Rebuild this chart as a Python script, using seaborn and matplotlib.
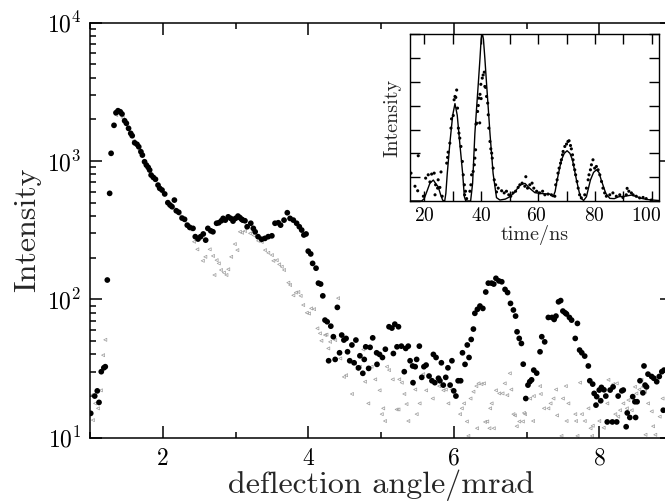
import numpy as np
import pandas as pd
import matplotlib
matplotlib.use("Agg")
import matplotlib.pyplot as plt
import matplotlib.transforms as mtransforms
from matplotlib.ticker import MultipleLocator, LogLocator, NullFormatter
import seaborn as sns

# ---------------- data: main panel ----------------
angle_on = [1.01, 1.065, 1.10, 1.124, 1.155, 1.19, 1.21, 1.238, 1.27, 1.29, 1.33, 1.357, 1.385, 1.416, 1.44,
            1.476, 1.50, 1.53, 1.56, 1.58, 1.614, 1.646, 1.67, 1.70, 1.72, 1.75, 1.775, 1.80, 1.82, 1.84,
            1.87, 1.90, 1.935, 1.958, 1.99, 2.027, 2.07, 2.10, 2.127, 2.16, 2.186, 2.22, 2.265, 2.30, 2.337,
            2.37, 2.416, 2.447, 2.485, 2.52, 2.557, 2.59, 2.62, 2.66, 2.69, 2.74, 2.77, 2.805, 2.83, 2.86,
            2.90, 2.934, 2.966, 3.0, 3.034, 3.06, 3.085, 3.10, 3.13, 3.16, 3.21, 3.245, 3.27, 3.31, 3.36,
            3.405, 3.45, 3.50, 3.543, 3.588, 3.62, 3.667, 3.712, 3.75, 3.795, 3.84, 3.877, 3.91, 3.94, 3.97,
            4.0, 4.034, 4.06, 4.107, 4.14, 4.17, 4.2, 4.23, 4.26, 4.28, 4.31, 4.345, 4.37, 4.40, 4.43,
            4.46, 4.49, 4.52, 4.54, 4.57, 4.60, 4.63, 4.655, 4.69, 4.71, 4.75, 4.77, 4.79, 4.83, 4.85,
            4.886, 4.94, 4.945, 4.98, 5.02, 5.06, 5.11, 5.15, 5.17, 5.19, 5.22, 5.24, 5.28, 5.32, 5.34,
            5.375, 5.40, 5.435, 5.44, 5.47, 5.49, 5.527, 5.56, 5.59, 5.62, 5.66, 5.70, 5.72, 5.74, 5.757,
            5.79, 5.81, 5.83, 5.856, 5.89, 5.92, 5.95, 5.975, 6.0, 6.03, 6.06, 6.095, 6.12, 6.155, 6.186,
            6.21, 6.24, 6.27, 6.29, 6.325, 6.36, 6.40, 6.44, 6.475, 6.52, 6.55, 6.58, 6.62, 6.66, 6.705,
            6.74, 6.78, 6.82, 6.85, 6.87, 6.90, 6.93, 6.955, 6.99, 7.02, 7.045, 7.07, 7.10, 7.14, 7.186,
            7.21, 7.25, 7.30, 7.35, 7.38, 7.405, 7.44, 7.47, 7.50, 7.53, 7.55, 7.59, 7.62, 7.67, 7.70,
            7.73, 7.76, 7.80, 7.85, 7.87, 7.91, 7.93, 7.955, 7.965, 8.0, 8.02, 8.03, 8.065, 8.09, 8.11,
            8.15, 8.18, 8.19, 8.24, 8.26, 8.31, 8.33, 8.37, 8.385, 8.42, 8.46, 8.49, 8.50, 8.52, 8.56,
            8.60, 8.615, 8.63, 8.65, 8.67, 8.72, 8.75, 8.79, 8.825, 8.86, 8.88, 8.89]
intensity_on = [15.0, 20, 21.8, 18, 30, 32, 32.6, 138, 584, 1137, 1812, 2234, 2311, 2270, 2188,
                1955, 1874, 1722, 1585, 1524, 1355, 1321, 1268, 1167, 1104, 988, 935, 900, 861, 792,
                762, 738, 670, 635, 617, 578, 500, 481, 468, 522, 437, 426, 387, 379, 344,
                332, 326, 284, 273, 284, 297, 268, 326, 313, 308, 355, 358, 370, 385, 374,
                395, 385, 368, 385, 400, 390, 379, 374, 370, 335, 355, 326, 308, 284, 272,
                276, 284, 288, 355, 358, 344, 374, 423, 385, 374, 355, 335, 317, 292, 297,
                223, 213, 182, 168, 131, 129, 106, 70.8, 68.9, 36, 64, 53.7, 36.8, 87.5, 41.1,
                55.2, 50.8, 52.2, 41.8, 36, 46.8, 34.8, 50.8, 32, 39.1, 29.2, 36.8, 45.4, 31.7, 45,
                52.7, 41.1, 33.9, 40, 38, 43.6, 63.4, 62, 40.6, 66.2, 45.4, 63.4, 45.9, 30, 44.2,
                45.9, 36, 33, 25, 32.6, 36.8, 45.9, 27.3, 32.6, 33.5, 27.9, 25.8, 40, 25, 38,
                26.9, 25.8, 34.8, 24, 27.3, 32, 24, 36, 21.8, 20, 25.8, 25.8, 41.1, 33.9, 46.8,
                38, 51.3, 61, 79.3, 84.7, 89.5, 86, 113, 131, 131, 129, 142, 136, 134, 118,
                112, 93.5, 83.8, 75.7, 58.3, 52.2, 48, 34, 19.2, 24, 25.4, 26.2, 30.8, 29.3, 41.8,
                53.7, 49.3, 74, 74, 71.6, 75.7, 96, 98, 82.3, 80, 78.4, 74, 70.8, 52.2, 67,
                43, 41.1, 38.9, 33, 25.8, 24.4, 20.9, 17.2, 19.8, 22.1, 18.5, 23.1, 22.2, 20, 13,
                22.1, 13, 23.3, 13, 20, 21.8, 22.1, 12, 15.1, 14, 19.8, 18.2, 14, 18.2, 25.8,
                21.1, 33, 24, 23.3, 28.8, 27.7, 26.9, 25.4, 27.7, 30, 15.8, 30.8]

angle_off = [1.02, 1.04, 1.07, 1.11, 1.15, 1.18, 1.21, 1.29, 1.36, 1.40, 1.45, 1.52, 1.60, 1.68, 1.76,
             1.85, 1.93, 2.0, 2.08, 2.15, 2.23, 2.30, 2.37, 2.43, 2.475, 2.55, 2.585, 2.645, 2.69, 2.71,
             2.74, 2.77, 2.80, 2.84, 2.875, 2.90, 2.94, 2.99, 3.025, 3.06, 3.09, 3.13, 3.2, 3.25, 3.31,
             3.36, 3.405, 3.45, 3.50, 3.52, 3.566, 3.60, 3.635, 3.667, 3.726, 3.75, 3.795, 3.83, 3.863, 3.895,
             3.93, 3.98, 4.01, 4.04, 4.08, 4.125, 4.16, 4.18, 4.23, 4.25, 4.275, 4.30, 4.37, 4.41, 4.44,
             4.49, 4.52, 4.57, 4.60, 4.64, 4.675, 4.71, 4.757, 4.78, 4.825, 4.87, 4.92, 4.94, 4.98, 5.01,
             5.03, 5.055, 5.08, 5.11, 5.16, 5.215, 5.24, 5.25, 5.285, 5.32, 5.35, 5.375, 5.435, 5.47, 5.49,
             5.53, 5.58, 5.62, 5.67, 5.71, 5.80, 5.857, 5.89, 5.925, 5.97, 6.015, 6.086, 6.11, 6.14, 6.18,
             6.20, 6.23, 6.27, 6.31, 6.32, 6.34, 6.38, 6.415, 6.43, 6.46, 6.49, 6.50, 6.52, 6.55, 6.58,
             6.625, 6.67, 6.70, 6.735, 6.77, 6.79, 6.82, 6.84, 6.865, 6.90, 6.95, 6.965, 6.98, 7.05, 7.09,
             7.10, 7.186, 7.195, 7.24, 7.30, 7.33, 7.37, 7.405, 7.42, 7.48, 7.50, 7.54, 7.55, 7.575, 7.67,
             7.68, 7.70, 7.735, 7.76, 7.80, 7.85, 7.88, 7.90, 7.91, 8.0, 8.06, 8.11, 8.125, 8.17, 8.19,
             8.22, 8.24, 8.245, 8.26, 8.285, 8.33, 8.38, 8.40, 8.445, 8.49, 8.51, 8.55, 8.58, 8.60, 8.63,
             8.635, 8.67, 8.72, 8.74, 8.77, 8.83, 8.87, 8.89]
intensity_off = [20.3, 13.4, 17.7, 16.3, 22, 39.5, 51, 1150, 2150, 2200, 2050, 1750, 1400, 1200, 950,
                 780, 660, 590, 490, 450, 410, 370, 320, 261, 230, 190, 203, 230, 206, 150,
                 192, 182, 163, 156, 150, 165, 203, 251, 227, 308, 303, 312, 300, 290, 265,
                 260, 227, 217, 209, 190, 192, 179, 172, 163, 132, 127, 107, 112, 113, 106,
                 91, 80, 79, 86, 85, 61.7, 56.8, 50.2, 55.2, 55.6, 44.2, 49.3, 50.8, 102, 37.4,
                 27.5, 28.3, 35.4, 20.7, 34.4, 31.2, 32.6, 43.4, 25.4, 17.7, 32.6, 26.4, 34.4, 22, 14.8,
                 16.3, 13.2, 32.6, 30.8, 26.4, 16, 16, 26.4, 25, 20.7, 17.5, 13.2, 24.4, 22.3, 14.8,
                 17.7, 28.8, 22, 27.7, 19.2, 23.6, 22, 22.3, 17.7, 22.3, 20.3, 14.8, 16.3, 17.7, 13.1,
                 10.3, 19.2, 21.5, 23.6, 11.7, 24.7, 24.4, 24.7, 13, 13.1, 11.7, 16.3, 17.7, 11.7, 22,
                 20.9, 20.9, 24.7, 20.3, 29.2, 22.3, 14.8, 14.5, 12.1, 13.1, 13.1, 15.1, 14.8, 19.2, 13.2,
                 20, 23.6, 20.7, 16.3, 16.3, 17.7, 19.2, 22.3, 14.5, 10.3, 19.2, 23.6, 13.2, 17.7, 14.8,
                 13.2, 10.3, 25, 14.8, 13.2, 16.3, 11.7, 10.3, 12.2, 13.2, 11.8, 17.7, 26.2, 22.8, 24.4,
                 14.8, 24.7, 13, 14.2, 15.8, 17.7, 16.3, 18.7, 15.8, 23.3, 20.9, 22.3, 26.2, 23.3, 21.5,
                 10.5, 17.7, 15.5, 12.1, 10.5, 14.2, 19.2, 15.5]

# ---------------- data: inset ----------------
time_pts = [15.35, 16.75, 17.7, 17.9, 19.7, 20.5, 21.4, 22.0, 22.6, 23.5, 23.8, 24.0, 24.7, 24.9, 25.5,
            25.9, 26.3, 27.9, 28.2, 28.4, 29.0, 29.4, 29.6, 30.2, 30.5, 30.8, 31.1, 31.4, 31.7, 32.0,
            32.2, 32.5, 32.9, 33.4, 33.7, 34.1, 34.2, 34.5, 34.9, 36.05, 36.4, 36.65, 37.2, 37.6, 37.8,
            38.05, 38.2, 38.4, 38.75, 39.0, 39.2, 39.5, 39.6, 39.9, 40.0, 40.4, 40.7, 41.1, 41.3, 41.55,
            41.9, 42.3, 42.5, 42.7, 43.1, 43.4, 43.7, 43.9, 44.2, 44.6, 45.1, 45.4, 46.0, 47.2, 48.1,
            48.9, 49.7, 50.4, 51.2, 52.1, 53.0, 53.6, 54.4, 55.35, 55.7, 56.3, 57.1, 57.9, 58.5, 59.5,
            60.6, 61.6, 62.4, 63.5, 64.7, 65.9, 66.2, 66.7, 67.0, 67.4, 67.9, 68.2, 68.6, 68.8, 69.4,
            70.0, 70.5, 70.9, 71.4, 71.7, 72.1, 72.3, 72.5, 72.9, 73.2, 73.7, 74.1, 74.6, 75.2, 76.4,
            77.0, 77.6, 77.9, 78.4, 78.75, 79.3, 79.9, 80.5, 81.1, 81.7, 82.3, 82.8, 83.4, 84.0, 85.2,
            86.3, 87.5, 88.7, 89.8, 91.0, 91.3, 91.9, 92.8, 93.4, 94.5, 95.7, 96.9, 98.0, 99.8]
signal_pts = [1.17, 0.62, 0.43, 1.9, 0.2, 0.96, 1.10, 0.8, 1.13, 1.17, 0.26, 0.68, 0.54, 0.89, 0.57,
              1.22, 0.2, 1.59, 1.83, 2.05, 2.43, 3.06, 3.45, 3.59, 4.25, 4.39, 4.35, 4.66, 3.9, 3.06,
              2.85, 2.64, 2.29, 1.66, 1.10, 0.68, 0.26, 0.41, 0.1, 0.41, 0.68, 1.10, 1.24, 1.52, 1.80,
              2.15, 3.23, 3.27, 3.76, 4.01, 4.32, 3.28, 4.48, 4.90, 4.3, 5.16, 5.29, 5.41, 4.81, 4.77,
              4.39, 4.11, 3.62, 3.06, 2.50, 2.19, 2.01, 1.80, 1.38, 0.89, 0.68, 0.38, 0.54, 0.43, 0.34,
              0.41, 0.26, 0.2, 0.34, 0.41, 0.57, 0.68, 0.75, 0.62, 1.02, 0.54, 0.68, 0.75, 0.54, 0.41,
              0.34, 0.41, 0.26, 0.29, 0.26, 0.2, 0.68, 0.89, 1.17, 1.38, 1.59, 1.73, 1.94, 2.08, 2.29,
              2.39, 2.50, 2.53, 2.33, 2.19, 1.94, 1.73, 1.52, 1.31, 1.10, 0.82, 0.54, 0.26, 0.13, 0.26,
              0.54, 0.89, 1.10, 1.31, 1.52, 1.73, 1.38, 1.45, 1.31, 1.10, 0.82, 0.54, 0.34, 0.2, 0.26,
              0.34, 0.2, 0.26, 0.15, 0.26, 0.53, 0.41, 0.34, 0.26, 0.2, 0.13, 0.15, 0.1, 0.04]

time_fit = [15, 19.1, 20, 20.9, 22, 23.2, 24.2, 24.9, 25.8, 26.5, 27.2, 27.6, 28.1, 29.0, 30.0, 30.8,
            31.6, 32.5, 33.5, 34.1, 34.6, 36.3, 37.0, 37.8, 38.4, 39.0, 39.6, 40.0, 40.4, 40.8, 41.3,
            41.9, 42.5, 43.1, 44.2, 45.4, 46.6, 48.5, 50.1, 52, 53.6, 55.4, 57.1, 58.9, 60.6, 62.5,
            64.1, 65.3, 66.0, 66.7, 68.2, 69.2, 70.2, 71.2, 72.1, 73.5, 74.5, 75.2, 76.0, 77.0, 78.4,
            79.5, 80.5, 81.4, 82.2, 83.8, 85.2, 86.8, 88.4, 90.5, 92.9, 94.7, 96.4, 98.5, 100.4, 102.5]
signal_fit = [0, 0, 0.1, 0.39, 0.75, 0.88, 0.7, 0.6, 0.25, 0.03, 0, 0.32, 1.16, 2.42, 3.6, 4.09,
              3.6, 2.42, 1.16, 0.18, 0, 0, 0.74, 2.84, 3.9, 4.93, 6.0, 6.8, 7.05, 6.8, 6.0,
              4.93, 3.9, 2.84, 1.16, 0.14, 0.04, 0.08, 0.18, 0.4, 0.67, 0.74, 0.53, 0.35, 0.32, 0.3,
              0.29, 0.18, 0.4, 0.88, 1.72, 2.0, 2.11, 2.0, 1.72, 0.88, 0.35, 0.11, 0.02, 0.18, 0.88,
              1.2, 1.31, 1.2, 0.88, 0.32, 0.11, 0.1, 0.18, 0.2, 0.25, 0.18, 0.11, 0.06, 0.04, 0.02]

# ---------------- style ----------------
sns.set_style("ticks")
plt.rcParams['font.family'] = ['cmr10', 'DejaVu Serif']
plt.rcParams['mathtext.fontset'] = 'cm'
plt.rcParams['axes.formatter.use_mathtext'] = True
plt.rcParams['axes.unicode_minus'] = False

fig = plt.figure(figsize=(6.65, 5.04), dpi=100)
W, H = 665.0, 504.0
ax = fig.add_axes([90 / W, (H - 437.7) / H, (672 - 90) / W, (437.7 - 22.7) / H])

df_off = pd.DataFrame({"angle": angle_off, "intensity": intensity_off})
df_on = pd.DataFrame({"angle": angle_on, "intensity": intensity_on})

sns.scatterplot(data=df_off, x="angle", y="intensity", ax=ax, marker="<", s=5,
                linewidth=0.5, legend=False, zorder=2)
coll = ax.collections[-1]
coll.set_facecolor("none")
coll.set_edgecolor("#9c9c9c")
sns.scatterplot(data=df_on, x="angle", y="intensity", ax=ax, color="black", s=17,
                edgecolor="none", legend=False, zorder=3)

ax.set_yscale("log")
ax.set_xlim(1, 9)
ax.set_ylim(10, 1e4)
ax.xaxis.set_major_locator(MultipleLocator(2))
ax.xaxis.set_minor_locator(MultipleLocator(1))
ax.yaxis.set_major_locator(LogLocator(base=10, numticks=10))
ax.yaxis.set_minor_locator(LogLocator(base=10, subs=np.arange(2, 10), numticks=20))
ax.yaxis.set_minor_formatter(NullFormatter())
ax.tick_params(which="both", direction="in", top=True, right=True, width=1.1, colors="black")
ax.tick_params(which="major", length=8.6, labelsize=17)
ax.tick_params(which="minor", length=4.3)
ax.tick_params(axis="x", which="major", pad=7)
ax.tick_params(axis="y", which="major", pad=6)
for sp in ax.spines.values():
    sp.set_linewidth(1.1)
    sp.set_color("black")
ax.set_xlabel("deflection angle/mrad", fontsize=23, labelpad=0)
ax.set_ylabel("Intensity", fontsize=23, labelpad=4)

# ---------------- inset ----------------
axi = fig.add_axes([410 / W, (H - 201) / H, (659 - 410) / W, (201 - 34.3) / H])
axi.set_facecolor("white")
df_pts = pd.DataFrame({"time": time_pts, "signal": signal_pts})
df_fit = pd.DataFrame({"time": time_fit, "signal": signal_fit})
sns.lineplot(data=df_fit, x="time", y="signal", ax=axi, color="black", linewidth=1.0,
             estimator=None, sort=False, legend=False)
sns.scatterplot(data=df_pts, x="time", y="signal", ax=axi, color="black", s=5,
                edgecolor="none", legend=False)
axi.set_xlim(15, 102.5)
axi.set_ylim(0, 7)
axi.xaxis.set_major_locator(MultipleLocator(20))
axi.xaxis.set_minor_locator(MultipleLocator(10))
axi.yaxis.set_major_locator(MultipleLocator(1))
axi.yaxis.set_major_formatter(NullFormatter())
axi.tick_params(which="both", direction="in", top=True, right=True, width=1.0, length=7,
                colors="black")
axi.tick_params(axis="x", labelsize=14, pad=4)
for sp in axi.spines.values():
    sp.set_linewidth(1.0)
    sp.set_color("black")
axi.set_xlabel("time/ns", fontsize=14.5, labelpad=0)
axi.set_ylabel("Intensity", fontsize=14.5, labelpad=3)

# small leftward nudges of the last inset tick labels, as in the reference
fig.canvas.draw()
shifts = {60: -2, 80: -1, 100: -6}
for tick in axi.xaxis.get_major_ticks():
    loc = tick.get_loc()
    for key, dx in shifts.items():
        if abs(loc - key) < 1e-6:
            lab = tick.label1
            lab.set_transform(lab.get_transform() +
                              mtransforms.ScaledTranslation(dx / 100.0, 0, fig.dpi_scale_trans))

fig.savefig("out.png", dpi=100)
